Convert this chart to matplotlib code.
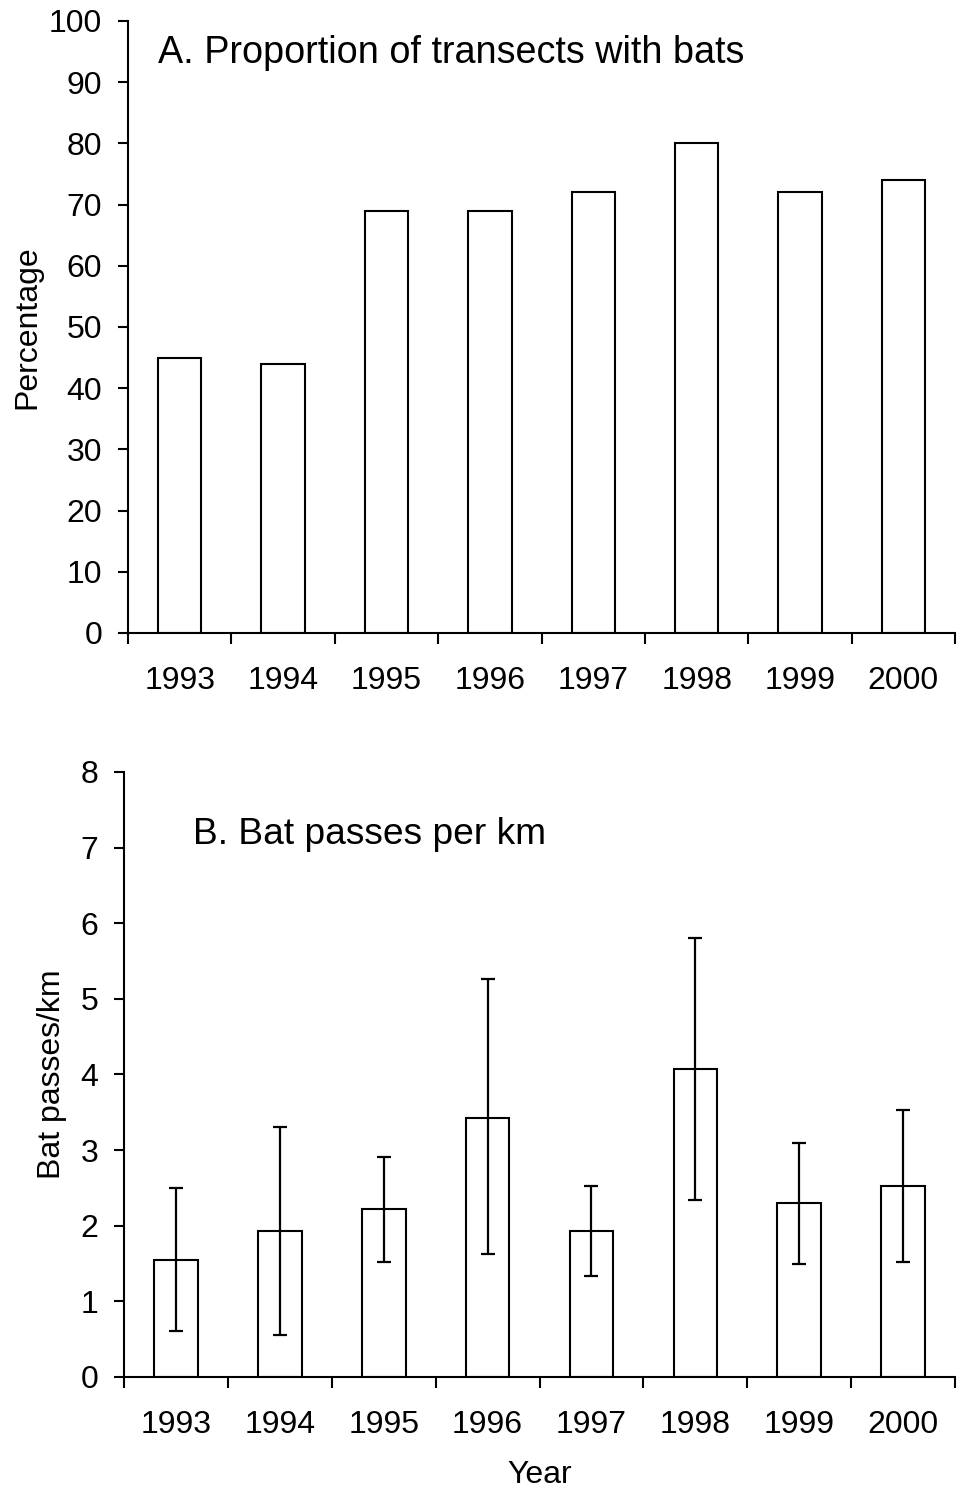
import matplotlib
matplotlib.use('Agg')
import matplotlib.pyplot as plt
import numpy as np

plt.rcParams['font.family'] = ['Liberation Sans', 'DejaVu Sans']

years = ['1993', '1994', '1995', '1996', '1997', '1998', '1999', '2000']
pct_transects = [45, 44, 69, 69, 72, 80, 72, 74]
passes_per_km = [1.55, 1.93, 2.22, 3.43, 1.93, 4.07, 2.30, 2.52]
err_upper = [2.50, 3.30, 2.91, 5.26, 2.52, 5.80, 3.09, 3.53]
err_lower = [0.61, 0.56, 1.52, 1.62, 1.33, 2.34, 1.49, 1.52]

x = np.arange(len(years))
tick_fs = 23
title_fs = 27.2

fig = plt.figure(figsize=(9.62, 14.88), dpi=100)
ax1 = fig.add_axes([0.1331, 0.5746, 0.8597, 0.4113])
ax2 = fig.add_axes([0.1289, 0.0746, 0.8639, 0.4066])


def style_axis(ax, ymax, ystep):
    for s in ['top', 'right']:
        ax.spines[s].set_visible(False)
    for s in ['left', 'bottom']:
        ax.spines[s].set_linewidth(1.5)
    ax.set_xlim(-0.5, len(years) - 0.5)
    ax.set_ylim(0, ymax)
    ax.set_yticks(np.arange(0, ymax + ystep / 2, ystep))
    ax.set_xticks(np.arange(-0.5, len(years), 1.0))
    ax.set_xticklabels([])
    ax.set_xticks(x, minor=True)
    ax.set_xticklabels(years, minor=True)
    ax.tick_params(axis='x', which='major', direction='out', length=8, width=1.5)
    ax.tick_params(axis='x', which='minor', length=0, pad=24, labelsize=tick_fs)
    ax.tick_params(axis='y', direction='out', length=7.5, width=1.5, pad=11, labelsize=tick_fs)


# A. proportion of transects
ax1.bar(x, pct_transects, width=0.42, color='white', edgecolor='black', linewidth=1.5)
style_axis(ax1, 100, 10)
ax1.set_ylabel('Percentage', fontsize=tick_fs)
ax1.yaxis.set_label_coords(-0.103, 0.5)
ax1.text(-0.21, 93.1, 'A. Proportion of transects with bats', fontsize=title_fs, va='baseline')

# B. bat passes per km
yerr = [np.array(passes_per_km) - np.array(err_lower), np.array(err_upper) - np.array(passes_per_km)]
ax2.bar(x, passes_per_km, width=0.42, color='white', edgecolor='black', linewidth=1.5)
ax2.errorbar(x, passes_per_km, yerr=yerr, fmt='none', ecolor='black', elinewidth=1.6, capsize=5, capthick=1.6)
style_axis(ax2, 8, 1)
ax2.set_ylabel('Bat passes/km', fontsize=tick_fs)
ax2.yaxis.set_label_coords(-0.069, 0.5)
ax2.set_xlabel('Year', fontsize=tick_fs)
ax2.xaxis.set_label_coords(0.5, -0.137)
ax2.text(0.164, 7.05, 'B. Bat passes per km', fontsize=26.7, va='baseline')

fig.savefig('out.png', dpi=100)
